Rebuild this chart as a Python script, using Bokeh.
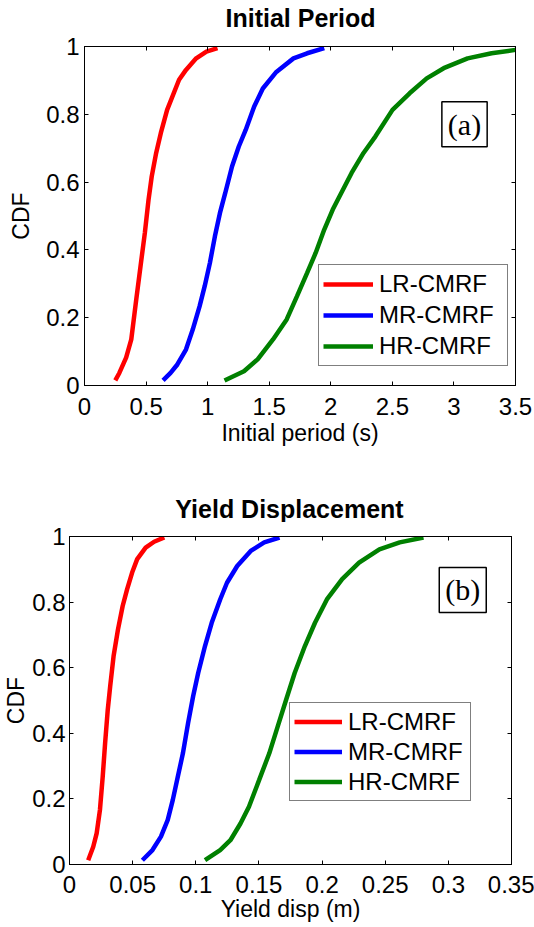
from bokeh.plotting import figure
from bokeh.models import Legend, LegendItem, Label, LinearAxis, FixedTicker, Range1d
from bokeh.layouts import column, row
from bokeh.core.properties import value
from bokeh.embed import file_html
from bokeh.resources import INLINE

series_names = ["LR-CMRF", "MR-CMRF", "HR-CMRF"]
series_colors = ["#ff0000", "#0000ff", "#008000"]

# ---- (a) Initial period ----
period_lr_x = [0.25, 0.283, 0.338, 0.38, 0.42, 0.455, 0.49, 0.52, 0.546, 0.582, 0.62, 0.671, 0.768, 0.824, 0.907, 0.99, 1.08]
period_lr_cdf = [0.015, 0.037, 0.082, 0.136, 0.253, 0.352, 0.45, 0.548, 0.617, 0.686, 0.745, 0.813, 0.902, 0.931, 0.965, 0.985, 0.995]
period_mr_x = [0.638, 0.699, 0.754, 0.824, 0.879, 0.935, 0.976, 1.018, 1.059, 1.1, 1.143, 1.198, 1.253, 1.309, 1.378, 1.448, 1.558, 1.697, 1.808, 1.947]
period_mr_cdf = [0.015, 0.037, 0.062, 0.106, 0.165, 0.234, 0.293, 0.361, 0.44, 0.509, 0.568, 0.646, 0.705, 0.754, 0.823, 0.876, 0.925, 0.965, 0.98, 0.995]
period_hr_x = [1.137, 1.295, 1.406, 1.531, 1.642, 1.725, 1.808, 1.877, 1.947, 2.016, 2.085, 2.169, 2.266, 2.363, 2.501, 2.64, 2.779, 2.917, 3.111, 3.306, 3.5]
period_hr_cdf = [0.015, 0.042, 0.077, 0.136, 0.195, 0.263, 0.332, 0.391, 0.46, 0.519, 0.568, 0.627, 0.686, 0.735, 0.813, 0.862, 0.906, 0.936, 0.965, 0.98, 0.99]
period_xticks = [0, 0.5, 1, 1.5, 2, 2.5, 3, 3.5]
period_xtick_labels = ["0", "0.5", "1", "1.5", "2", "2.5", "3", "3.5"]

# ---- (b) Yield displacement ----
yield_lr_x = [0.0148, 0.0188, 0.0215, 0.0241, 0.0263, 0.0282, 0.0303, 0.0322, 0.0349, 0.0384, 0.0421, 0.0456, 0.0496, 0.0536, 0.0603, 0.067, 0.0751]
yield_lr_cdf = [0.013, 0.054, 0.095, 0.166, 0.268, 0.37, 0.472, 0.543, 0.635, 0.717, 0.788, 0.839, 0.89, 0.931, 0.966, 0.984, 0.997]
yield_mr_x = [0.0577, 0.0657, 0.0724, 0.0778, 0.0818, 0.0858, 0.0898, 0.0939, 0.0979, 0.1019, 0.1073, 0.1126, 0.1193, 0.1247, 0.1328, 0.1435, 0.1542, 0.1663]
yield_mr_cdf = [0.013, 0.044, 0.085, 0.136, 0.197, 0.268, 0.339, 0.431, 0.513, 0.584, 0.666, 0.737, 0.808, 0.859, 0.91, 0.956, 0.982, 0.997]
yield_hr_x = [0.1073, 0.1193, 0.1274, 0.1354, 0.1421, 0.1502, 0.1582, 0.1649, 0.1716, 0.1783, 0.1864, 0.1944, 0.2038, 0.2159, 0.2293, 0.2454, 0.2615, 0.2803]
yield_hr_cdf = [0.013, 0.044, 0.074, 0.125, 0.176, 0.258, 0.339, 0.421, 0.503, 0.584, 0.666, 0.737, 0.808, 0.87, 0.92, 0.961, 0.982, 0.997]
yield_xticks = [0, 0.05, 0.1, 0.15, 0.2, 0.25, 0.3, 0.35]
yield_xtick_labels = ["0", "0.05", "0.1", "0.15", "0.2", "0.25", "0.3", "0.35"]

cdf_ticks = [0, 0.2, 0.4, 0.6, 0.8, 1]
cdf_tick_labels = ["0", "0.2", "0.4", "0.6", "0.8", "1"]

titles = ["Initial Period", "Yield Displacement"]
FONT = "Liberation Sans"


def style_axis(ax, ticks, labels, show_labels=True, standoff=5):
    ax.ticker = FixedTicker(ticks=ticks)
    ax.minor_tick_line_color = None
    ax.major_tick_in = 4
    ax.major_tick_out = 0
    ax.major_tick_line_color = "black"
    ax.axis_line_color = "black"
    if show_labels:
        ax.major_label_overrides = {t: l for t, l in zip(ticks, labels)}
        ax.major_label_text_font = FONT
        ax.major_label_text_color = "black"
        ax.major_label_text_font_size = "24px"
        ax.major_label_standoff = standoff
    else:
        ax.major_label_overrides = {t: "" for t in ticks}
        ax.major_label_text_color = None
        ax.major_label_text_font_size = "1px"
        ax.major_label_standoff = 0


def title_fig(text, h, cx, cy):
    t = figure(width=534, height=h, output_backend="svg", toolbar_location=None,
               x_range=Range1d(0, 534), y_range=Range1d(0, h),
               x_axis_type=None, y_axis_type=None, min_border=0)
    t.min_border_left = t.min_border_right = t.min_border_top = t.min_border_bottom = 0
    t.outline_line_color = None
    t.grid.visible = False
    t.text(x=[cx], y=[cy], text=[text], text_font=value(FONT), text_font_size="25px",
           text_font_style="bold", text_color="black", text_align="center", text_baseline="middle")
    return t


def make_panel(xlabel, xmax, xticks, xlabels, xs, ys, fig_h, bl, br, bt, bb,
               tick_standoff, ytick_standoff, xlab_standoff, ylab_standoff,
               legend_loc, legend_gw, legend_lh, legend_lw, tag, tag_x, tag_y):
    p = figure(width=534, height=fig_h, output_backend="svg", toolbar_location=None,
               x_range=Range1d(0, xmax), y_range=Range1d(0, 1),
               min_border_left=bl, min_border_right=br, min_border_top=bt, min_border_bottom=bb)
    p.grid.visible = False
    p.outline_line_color = "black"
    p.outline_line_width = 1
    p.background_fill_color = "white"
    p.border_fill_color = "white"

    style_axis(p.xaxis[0], xticks, xlabels, standoff=tick_standoff)
    style_axis(p.yaxis[0], cdf_ticks, cdf_tick_labels, standoff=ytick_standoff)
    p.xaxis[0].axis_label = xlabel
    p.xaxis[0].axis_label_standoff = xlab_standoff
    p.yaxis[0].axis_label = "CDF"
    p.yaxis[0].axis_label_standoff = ylab_standoff
    for ax in (p.xaxis[0], p.yaxis[0]):
        ax.axis_label_text_font = FONT
        ax.axis_label_text_font_size = "23px"
        ax.axis_label_text_font_style = "normal"
        ax.axis_label_text_color = "black"

    top_ax = LinearAxis()
    style_axis(top_ax, xticks, xlabels, show_labels=False)
    p.add_layout(top_ax, "above")
    right_ax = LinearAxis()
    style_axis(right_ax, cdf_ticks, cdf_tick_labels, show_labels=False)
    p.add_layout(right_ax, "right")

    items = []
    for name, color, x, y in zip(series_names, series_colors, xs, ys):
        r = p.line(x, y, line_color=color, line_width=4.5)
        items.append(LegendItem(label=name, renderers=[r]))

    legend = Legend(items=items, location=legend_loc,
                    label_text_font=FONT, label_text_font_size="24px", label_text_color="black",
                    glyph_width=legend_gw, glyph_height=legend_lh, label_height=legend_lh,
                    label_width=legend_lw, label_standoff=6, spacing=1, padding=4, margin=0,
                    border_line_color="black", border_line_width=1.2,
                    background_fill_color="white", background_fill_alpha=1)
    p.add_layout(legend, "center")

    tag_lab = Label(x=tag_x, y=tag_y, text=tag, text_font="Liberation Serif", text_font_size="30px",
                    text_color="black", text_align="center", text_baseline="middle",
                    border_line_color="black", border_line_width=1.5,
                    background_fill_color="white", padding=6)
    p.add_layout(tag_lab)
    return p


t1 = title_fig(titles[0], 32, 300, 15)
p1 = make_panel("Initial period (s)", 3.5, period_xticks, period_xtick_labels,
                [period_lr_x, period_mr_x, period_hr_x],
                [period_lr_cdf, period_mr_cdf, period_hr_cdf],
                431, 84, 19, 14, 78, 12, 5, 2, 9,
                (234, 19), 50, 30, 124, "(a)", 3.086, 0.771)
t2 = title_fig(titles[1], 59, 289, 14)
p2 = make_panel("Yield disp (m)", 0.35, yield_xticks, yield_xtick_labels,
                [yield_lr_x, yield_mr_x, yield_hr_x],
                [yield_lr_cdf, yield_mr_cdf, yield_hr_cdf],
                405, 67, 23, 14, 63, 11, 4, 0, 0,
                (220, 63), 48, 29, 118, "(b)", 0.3114, 0.837)

layout = column(row(t1), row(p1), row(t2), row(p2), spacing=0)
open("out.html", "w").write(file_html(layout, INLINE))
